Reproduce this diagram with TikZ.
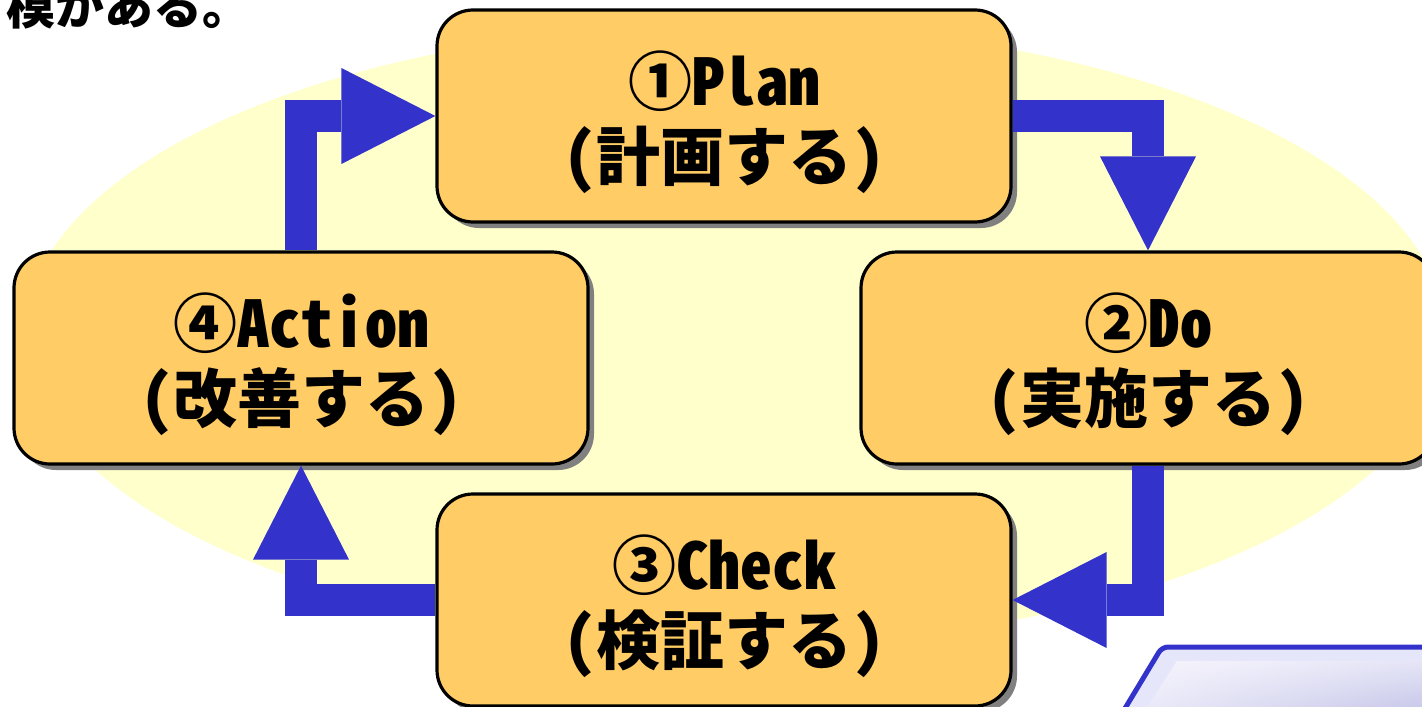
\documentclass[tikz,border=0pt]{standalone}
\usepackage{fontspec}
\usepackage{xcolor}
\usepackage{tikz}
\usetikzlibrary{arrows.meta}
\usetikzlibrary{shadows}
\usetikzlibrary{shadings}
\newfontfamily\jpfont[RawFeature=+hwid]{Noto Sans CJK JP}
\definecolor{paleyellow}{RGB}{255,255,204}
\definecolor{boxorange}{RGB}{255,204,102}
\definecolor{cycleblue}{RGB}{51,51,204}
\definecolor{panellav}{RGB}{230,230,250}
\definecolor{lavA}{RGB}{246,244,252}
\definecolor{lavB}{RGB}{228,228,246}
\definecolor{lavC}{RGB}{232,232,248}
\definecolor{lavD}{RGB}{196,196,232}
\newcommand{\stagetext}[2]% number+word, japanese
{\raisebox{-3pt}[\height][\depth]{#1}\\\raisebox{-3pt}[\height][\depth]{（#2）}}
\tikzset{
  stage/.style = {draw=black, line width=1.6pt, fill=boxorange, rounded corners=18pt,
    minimum width=287pt, minimum height=106pt, align=center, inner sep=0pt,
    font=\jpfont\bfseries\fontsize{32}{37.5}\selectfont,
    drop shadow={shadow xshift=3pt, shadow yshift=-3pt, fill=black!50, opacity=1}},
  turn/.style = {line width=16pt, cycleblue, line join=miter,
    -{Triangle[length=47pt, width=48pt, line width=0pt]}}
}
\begin{document}
\begin{tikzpicture}[x=0.5pt, y=-0.5pt]

\useasboundingbox (0,0) rectangle (1422,706);
\clip (0,0) rectangle (1422,706);

% -- background ellipse
\fill[paleyellow] (735,335) ellipse (710 and 310);

% -- heading (cut off at top)
\draw (6,25) node[anchor=base west, inner sep=0pt,
  font=\jpfont\bfseries\fontsize{24.5}{26}\selectfont] (T) {模がある。};

% -- the four stages
\draw (724,116) node[stage] (P) {\stagetext{①Plan}{計画する}};
\draw (1148,358) node[stage] (D) {\stagetext{②Do}{実施する}};
\draw (724,600) node[stage] (C) {\stagetext{③Check}{検証する}};
\draw (301,358) node[stage] (A) {\stagetext{④Action}{改善する}};

% -- cycle arrows
\draw[turn] (P.east) -| (D.north);
\draw[turn] (D.south) |- (C.east);
\draw[turn] (C.west) -| (A.south);
\draw[turn] (A.north) |- (P.west);

% -- panel bottom right
\draw[line width=2.5pt, draw=cycleblue, fill=panellav, rounded corners=3pt]
  (1118,720) -- (1162,647) -- (1440,647) -- (1440,720) -- cycle;
\shade[upper left=lavA, upper right=lavB, lower left=lavC, lower right=lavD]
  (1144,712) -- (1177,661) -- (1440,661) -- (1440,712) -- cycle;

\end{tikzpicture}
\end{document}
